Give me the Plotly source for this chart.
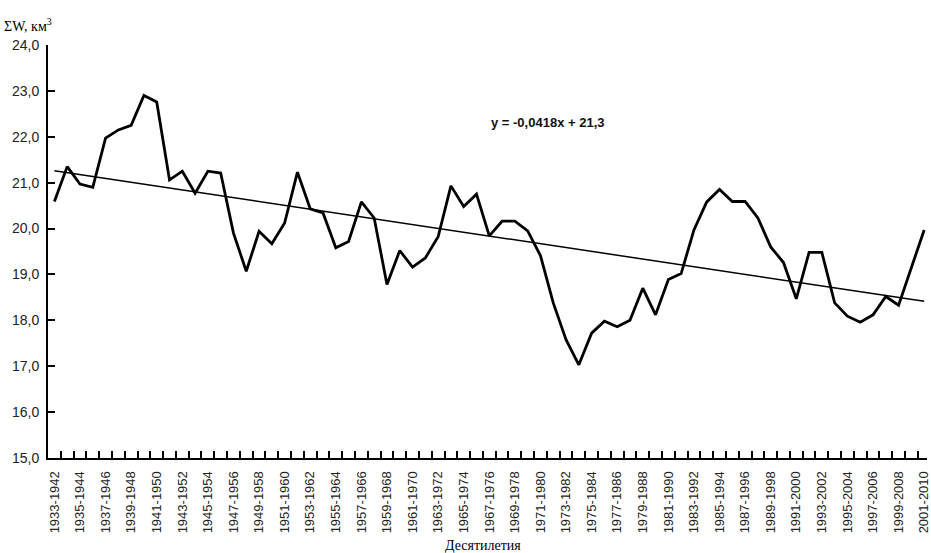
import plotly.graph_objects as go

# Decade windows (start year of each 10-year period)
start_years = list(range(1933, 2002))
decades = [f"{y}-{y + 9}" for y in start_years]

# Sum of water volume per decade, km^3
sum_w = [
    20.59, 21.35, 20.97, 20.90, 21.97, 22.15, 22.25, 22.90, 22.76, 21.06,
    21.25, 20.77, 21.25, 21.21, 19.90, 19.07, 19.94, 19.67, 20.12, 21.23,
    20.43, 20.34, 19.58, 19.72, 20.58, 20.23, 18.78, 19.52, 19.16, 19.36,
    19.82, 20.93, 20.48, 20.75, 19.84, 20.16, 20.16, 19.95, 19.41, 18.38,
    17.58, 17.03, 17.72, 17.98, 17.86, 18.00, 18.70, 18.12, 18.89, 19.02,
    19.97, 20.58, 20.85, 20.59, 20.59, 20.23, 19.60, 19.26, 18.47, 19.48,
    19.48, 18.38, 18.09, 17.96, 18.12, 18.52, 18.33, 19.14, 19.97,
]

# Linear trend coefficients (x = 1 .. n)
trend_slope = -0.0418
trend_intercept = 21.3
trend_label = "y = -0,0418x + 21,3"

y_ticks = [15, 16, 17, 18, 19, 20, 21, 22, 23, 24]
y_ticktext = [f"{v},0" for v in y_ticks]

idx = list(range(len(decades)))
trend = [trend_slope * (i + 1) + trend_intercept for i in idx]

# Plot-area geometry in pixels
W, H = 931, 553
ML, MR, MT, MB = 48, 0, 45, 95
plot_w = W - ML - MR
plot_h = H - MT - MB


def px_x(x):
    return (x - ML) / plot_w


def px_y(y):
    return (H - MB - y) / plot_h


fig = go.Figure()
fig.add_trace(go.Scatter(
    x=idx, y=sum_w, mode="lines",
    line=dict(color="black", width=2.8),
    hoverinfo="skip", showlegend=False,
))
fig.add_trace(go.Scatter(
    x=idx, y=trend, mode="lines",
    line=dict(color="black", width=1.5),
    hoverinfo="skip", showlegend=False,
))

fig.update_layout(
    width=W, height=H,
    margin=dict(l=ML, r=MR, t=MT, b=MB),
    paper_bgcolor="white", plot_bgcolor="white",
    font=dict(family="Liberation Sans, Arial", color="#222222"),
    xaxis=dict(
        range=[-0.5, 68.22],
        tickmode="array",
        tickvals=idx[::2],
        ticktext=decades[::2],
        tickangle=-90,
        ticks="",
        ticklabelstandoff=6,
        ticklabeloverflow="allow",
        tickfont=dict(size=13),
        showgrid=False, zeroline=False,
        showline=True, linecolor="black", linewidth=2,
        minor=dict(
            tickmode="array",
            tickvals=[i + 0.5 for i in idx],
            ticks="inside", ticklen=7, tickwidth=2, tickcolor="black",
            showgrid=False,
        ),
    ),
    yaxis=dict(
        range=[15, 24],
        tickmode="array",
        tickvals=y_ticks,
        ticktext=y_ticktext,
        ticks="inside", ticklen=7, tickwidth=2, tickcolor="black",
        ticklabelstandoff=4,
        tickfont=dict(size=14),
        showgrid=False, zeroline=False,
        showline=True, linecolor="black", linewidth=2,
    ),
    annotations=[
        dict(
            text="<b>" + trend_label + "</b>", x=38.57, y=22.31, xref="x", yref="y",
            showarrow=False, xanchor="center", yanchor="middle",
            font=dict(family="Liberation Sans, Arial", size=13, color="#111111"),
        ),
        dict(
            text="ΣW, км<sup>3</sup>", x=px_x(2), y=px_y(25),
            xref="paper", yref="paper",
            showarrow=False, xanchor="left", yanchor="middle",
            font=dict(family="Liberation Serif, Times New Roman", size=14, color="black"),
        ),
        dict(
            text="Десятилетия", x=px_x(485), y=px_y(545),
            xref="paper", yref="paper",
            showarrow=False, xanchor="center", yanchor="middle",
            font=dict(family="Liberation Serif, Times New Roman", size=14, color="black"),
        ),
    ],
)

fig.write_html("out.html")
